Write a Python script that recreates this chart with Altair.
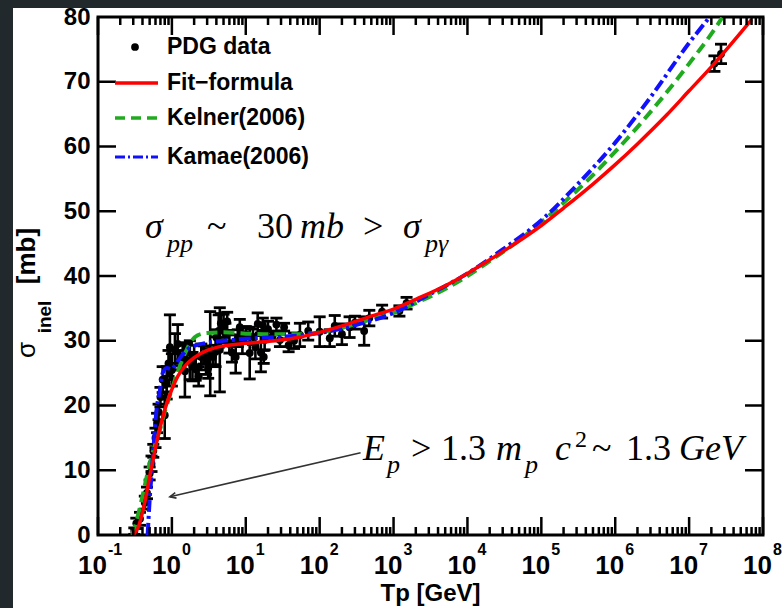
import altair as alt
import pandas as pd

# ---------------- data ----------------
pdg_tp = [0.31, 0.33, 0.37, 0.43, 0.46, 0.50, 0.53, 0.56, 0.60, 0.63, 0.66, 0.70, 0.75, 0.80, 0.85, 0.90, 0.94, 1.00, 1.10,
          1.2, 1.29, 1.4, 1.50, 1.6, 1.75, 1.9, 2.0, 2.1, 2.3, 2.5, 2.7, 2.9, 3.1, 3.3, 3.6, 3.9, 4.0, 4.3, 4.45, 4.6,
          5.0, 5.3, 5.6, 6.0, 6.5, 7.3, 7.8, 8.3, 9.0, 10.0,
          11.3, 12.5, 13.5, 14.5, 16, 17, 17.5, 18, 20, 23, 26, 29, 33, 38, 45, 54, 70, 100, 137, 160, 200, 254, 300,
          400, 470, 700, 1200, 1500, 2.2e7, 2.7e7]
pdg_sig = [0.6, 1.8, 2.5, 5.0, 6.5, 9.5, 11.0, 13.0, 15.0, 17.3, 19.0, 21.3, 24.0, 18.5, 23.5, 26.5, 29.0, 25.5, 28.6,
           29.5, 27.0, 27.5, 25.3, 28.2, 27.0, 26.0, 27.8, 25.6, 24.5, 27.5, 27.8, 26.8, 25.8, 28.0, 27.5, 28.3, 30.5, 31.5, 28.6, 32.7,
           32.3, 31.2, 33.0, 29.5, 28.2, 27.5, 30.4, 32.1, 30.0, 31.0,
           28.1, 30.6, 29.0, 32.6, 28.2, 32.4, 27.5, 30.1, 31.8, 30.7, 32.5, 30.1, 32.1, 29.3, 30.0, 30.9, 31.5, 31.4, 30.4, 32.3, 31.0, 32.1, 32.8,
           31.5, 33.5, 34.5, 34.6, 35.8, 72.8, 74.3]
pdg_err = [0.5, 0.8, 1.0, 1.0, 0.9, 1.0, 1.2, 1.0, 1.5, 1.5, 1.2, 1.5, 2.0, 3.6, 2.5, 2.0, 5.0, 2.5, 2.5,
           3.0, 1.5, 2.0, 4.0, 1.5, 3.0, 2.2, 1.5, 1.7, 1.5, 2.0, 1.4, 2.0, 1.6, 6.5, 1.2, 2.3, 1.2, 2.5, 6.5, 1.5,
           1.8, 1.5, 1.4, 1.4, 1.5, 2.5, 1.3, 1.2, 2.0, 1.2,
           4.0, 1.2, 1.8, 1.7, 3.0, 1.1, 1.0, 1.5, 1.2, 0.7, 1.0, 1.0, 0.6, 1.0, 1.2, 1.8, 1.4, 2.3, 1.3, 1.6, 1.6, 1.6, 1.0,
           2.2, 1.2, 1.0, 0.8, 0.9, 1.2, 1.5]

fit_tp = [0.28, 0.30, 0.35, 0.40, 0.45, 0.50, 0.55, 0.60, 0.70, 0.80, 0.90, 1.0, 1.2, 1.5, 2, 3, 5, 10, 20, 30,
          50, 100, 200, 500, 1e3, 2e3, 5e3, 1e4, 2e4, 5e4, 1e5, 2e5, 5e5, 1e6, 2e6, 5e6, 1e7, 2e7, 5e7, 7e7]
fit_sig = [0, 0.1, 1.2, 3.5, 6.2, 9.0, 11.3, 13.5, 16.8, 19.3, 21.1, 22.5, 24.5, 26.1, 27.4, 28.5, 29.2, 29.6, 29.9, 30.1,
           30.5, 31.3, 32.3, 33.8, 34.9, 36.4, 38.5, 40.4, 42.5, 45.4, 47.8, 50.5, 54.2, 57.2, 60.4, 64.9, 68.6, 72.3, 77.6, 79.6]

kel_tp = [0.29, 0.32, 0.40, 0.50, 0.60, 0.70, 0.80, 1.0, 1.2, 1.5, 1.8, 2.2, 3, 5, 10, 20, 50, 100, 200, 500,
          1e3, 2e3, 5e3, 1e4, 2e4, 5e4, 1e5, 2e5, 5e5, 1e6, 2e6, 5e6, 1e7, 2e7, 2.8e7]
kel_sig = [0, 1.5, 6.0, 11.0, 14.2, 16.5, 19.0, 22.5, 25.2, 28.0, 29.8, 30.8, 31.2, 31.3, 31.1, 31.0, 31.0, 31.3, 32.0, 33.3,
           34.3, 35.8, 38.0, 40.0, 42.3, 45.5, 48.3, 51.3, 55.6, 59.2, 63.0, 68.4, 72.8, 77.4, 79.9]

kam_tp = [0.47, 0.50, 0.54, 0.57, 0.62, 0.69, 0.75, 0.85, 1.0, 1.1, 1.3, 1.6, 2.0, 3.0, 5, 10, 30, 100, 300, 1e3,
          3e3, 1e4, 3e4, 1e5, 3e5, 1e6, 3e6, 1e7, 1.9e7]
kam_sig = [0, 5.4, 10.5, 14.2, 19.3, 22.4, 25.0, 25.8, 25.6, 26.2, 27.4, 28.6, 29.2, 29.7, 30.0, 30.3, 30.6, 31.2, 32.4, 34.3,
           37.1, 40.4, 44.1, 48.6, 54.0, 60.6, 67.6, 76.0, 80.0]

x_exponents = ["-1", "0", "1", "2", "3", "4", "5", "6", "7", "8"]
x_decades = [10.0 ** k for k in range(-1, 9)]
x_minor = [m * 10.0 ** k for k in range(-1, 8) for m in range(2, 10)]
y_ticks = [0, 10, 20, 30, 40, 50, 60, 70, 80]
y_inner = [10, 20, 30, 40, 50, 60, 70]

legend_labels = ["PDG data", "Fit\u2212formula", "Kelner(2006)", "Kamae(2006)"]

# arrow (data coordinates)
arrow_from = (358, 12.7)
arrow_to = (0.94, 5.9)

# ---------------- layout ----------------
W, H = 665, 518
PADL, PADT, PADR, PADB = 98, 17, 19, 73
DARK = "#22292c"
SANS = "Liberation Sans"
SERIF = "Liberation Serif"
XMIN, XMAX, YMIN, YMAX = 0.1, 1e8, 0, 80
DEC_PX = W / 9.0           # pixels per decade
MB_PX = H / 80.0           # pixels per mb
TMAJ, TMIN = 18, 8         # tick lengths in px

xs = alt.Scale(type="log", domain=[XMIN, XMAX], nice=False)
ys = alt.Scale(domain=[YMIN, YMAX], nice=False, zero=False)
xax = alt.Axis(labels=False, ticks=False, domain=False, grid=False, title=None)
yax = alt.Axis(values=y_ticks, ticks=False, domain=False, grid=False, title=None,
               labelFont=SANS, labelFontWeight="bold", labelFontSize=24, labelColor="black",
               labelPadding=8)


def X(f):
    return alt.X(f, type="quantitative", scale=xs, axis=xax)


def Y(f):
    return alt.Y(f, type="quantitative", scale=ys, axis=yax)


one = pd.DataFrame({"a": [0]})

pdg = pd.DataFrame({"tp": pdg_tp, "sig": pdg_sig, "err": pdg_err})
pdg["lo"] = pdg["sig"] - pdg["err"]
pdg["hi"] = pdg["sig"] + pdg["err"]
caps = pd.DataFrame({"tp": pdg_tp * 2, "v": list(pdg["lo"]) + list(pdg["hi"])})

layers = []

# dark frame strips around the white panel
layers.append(alt.Chart(one).mark_rect(color=DARK).encode(
    x=alt.value(-PADL), x2=alt.value(13 - PADL), y=alt.value(-PADT), y2=alt.value(H + PADB)))
layers.append(alt.Chart(one).mark_rect(color=DARK).encode(
    x=alt.value(-PADL), x2=alt.value(W + PADR), y=alt.value(-PADT), y2=alt.value(8 - PADT)))

# error bars and points
layers.append(alt.Chart(pdg).mark_rule(color="black", strokeWidth=2.6, clip=True).encode(
    x=X("tp"), y=Y("lo"), y2="hi"))
layers.append(alt.Chart(caps).mark_tick(color="black", orient="horizontal", size=12, thickness=2.8,
                                        opacity=1, clip=True).encode(
    x=X("tp"), y=Y("v")))
layers.append(alt.Chart(pdg).mark_circle(color="black", size=62, opacity=1, clip=True).encode(
    x=X("tp"), y=Y("sig")))

# curves
kel = pd.DataFrame({"tp": kel_tp, "sig": kel_sig})
kam = pd.DataFrame({"tp": kam_tp, "sig": kam_sig})
fit = pd.DataFrame({"tp": fit_tp, "sig": fit_sig})
layers.append(alt.Chart(kel).mark_line(color="#1faa1f", strokeWidth=4, strokeDash=[11, 6],
                                       interpolate="monotone", clip=True).encode(x=X("tp"), y=Y("sig")))
layers.append(alt.Chart(kam).mark_line(color="#1010ff", strokeWidth=4, strokeDash=[12, 4, 3, 4],
                                       interpolate="monotone", clip=True).encode(x=X("tp"), y=Y("sig")))
layers.append(alt.Chart(fit).mark_line(color="#ff0000", strokeWidth=3.5,
                                       interpolate="monotone", clip=True).encode(x=X("tp"), y=Y("sig")))

# inward ticks, drawn in data units
fmaj = 10 ** (TMAJ / DEC_PX)
tick_rows = []
for t in x_decades:
    tick_rows.append((t, t, YMIN, YMIN + TMAJ / MB_PX))
    tick_rows.append((t, t, YMAX, YMAX - TMAJ / MB_PX))
for t in x_minor:
    tick_rows.append((t, t, YMIN, YMIN + TMIN / MB_PX))
    tick_rows.append((t, t, YMAX, YMAX - TMIN / MB_PX))
for v in y_inner:
    tick_rows.append((XMIN, XMIN * fmaj, v, v))
    tick_rows.append((XMAX, XMAX / fmaj, v, v))
ticks = pd.DataFrame(tick_rows, columns=["x0", "x1", "y0", "y1"])
layers.append(alt.Chart(ticks).mark_rule(color="black", strokeWidth=2.5).encode(
    x=X("x0"), x2="x1", y=Y("y0"), y2="y1"))

# x tick labels 10^k
maj = pd.DataFrame({"t": x_decades, "e": x_exponents})
layers.append(alt.Chart(maj).mark_text(font=SANS, fontWeight="bold", fontSize=26, align="right",
                                       baseline="middle", dx=9, color="black").encode(
    x=X("t"), y=alt.value(549), text=alt.value("10")))
layers.append(alt.Chart(maj).mark_text(font=SANS, fontWeight="bold", fontSize=16, align="left",
                                       baseline="middle", dx=10, color="black").encode(
    x=X("t"), y=alt.value(533), text="e:N"))


def txt(s, x, y, size, font=SANS, weight="normal", style="normal", align="left", baseline="alphabetic",
        angle=0, color="black"):
    kw = dict(font=font, fontSize=size, fontWeight=weight, fontStyle=style, align=align,
              baseline=baseline, color=color)
    if angle:
        kw["angle"] = angle
    return alt.Chart(one).mark_text(**kw).encode(x=alt.value(x), y=alt.value(y), text=alt.value(s))


# axis titles
layers.append(txt("Tp [GeV]", W / 2, 577, 24, weight="bold", align="center", baseline="middle"))
layers.append(txt("\u03c3", -71, 333, 26, align="center", baseline="middle", angle=270))
layers.append(txt("inel", -53, 300, 19, weight="bold", align="center", baseline="middle", angle=270))
layers.append(txt("[mb]", -71, 239, 26, weight="bold", align="center", baseline="middle", angle=270))

# legend
leg_y = [30, 66, 101, 140]
layers.append(alt.Chart(one).mark_circle(color="black", size=60, opacity=1).encode(
    x=alt.value(37), y=alt.value(leg_y[0])))
layers.append(alt.Chart(one).mark_rule(color="#ff0000", strokeWidth=3.5).encode(
    x=alt.value(17), x2=alt.value(60), y=alt.value(leg_y[1])))
layers.append(alt.Chart(one).mark_rule(color="#1faa1f", strokeWidth=3.5, strokeDash=[10, 6]).encode(
    x=alt.value(17), x2=alt.value(60), y=alt.value(leg_y[2])))
layers.append(alt.Chart(one).mark_rule(color="#1010ff", strokeWidth=3, strokeDash=[10, 3, 2, 3]).encode(
    x=alt.value(17), x2=alt.value(60), y=alt.value(leg_y[3])))
for lab, yv in zip(legend_labels, leg_y):
    layers.append(txt(lab, 69, yv, 23, weight="bold", baseline="middle"))

# annotation 1: sigma_pp ~ 30 mb > sigma_p gamma
b1, s1 = 221, 235
layers.append(txt("\u03c3", 47, b1, 36, font=SERIF, style="italic"))
layers.append(txt("pp", 69, s1, 26, font=SERIF, style="italic"))
layers.append(txt("~", 109, b1, 36, font=SERIF))
layers.append(txt("30", 159, b1, 36, font=SERIF))
layers.append(txt("mb", 202, b1, 36, font=SERIF, style="italic"))
layers.append(txt(">", 265, b1, 36, font=SERIF))
layers.append(txt("\u03c3", 305, b1, 36, font=SERIF, style="italic"))
layers.append(txt("p\u03b3", 327, s1, 26, font=SERIF, style="italic"))

# annotation 2: E_p > 1.3 m_p c^2 ~ 1.3 GeV
b2, s2, p2 = 443, 456, 430
layers.append(txt("E", 265, b2, 36, font=SERIF, style="italic"))
layers.append(txt("p", 289, s2, 26, font=SERIF, style="italic"))
layers.append(txt(">", 313, b2, 36, font=SERIF))
layers.append(txt("1.3", 343, b2, 36, font=SERIF))
layers.append(txt("m", 398, b2, 36, font=SERIF, style="italic"))
layers.append(txt("p", 427, s2, 26, font=SERIF, style="italic"))
layers.append(txt("c", 457, b2, 36, font=SERIF, style="italic"))
layers.append(txt("2", 477, p2, 24, font=SERIF))
layers.append(txt("~", 494, b2, 36, font=SERIF))
layers.append(txt("1.3", 528, b2, 36, font=SERIF))
layers.append(txt("GeV", 581, b2, 36, font=SERIF, style="italic"))

# arrow
arr = pd.DataFrame({"x0": [arrow_from[0]], "y0": [arrow_from[1]], "x1": [arrow_to[0]], "y1": [arrow_to[1]]})
layers.append(alt.Chart(arr).mark_rule(color="#333333", strokeWidth=1.6).encode(
    x=X("x0"), y=Y("y0"), x2="x1", y2="y1"))
layers.append(alt.Chart(arr).mark_point(shape="M -0.45 1 L 0 0 L 0.45 1", angle=257, size=150,
                                        filled=False, color="#333333", strokeWidth=1.6, opacity=1).encode(
    x=X("x1"), y=Y("y1")))

chart = alt.layer(*layers).properties(
    width=W, height=H,
    padding={"left": PADL, "top": PADT, "right": PADR, "bottom": PADB},
    autosize=alt.AutoSizeParams(type="none"),
).configure(background="white").configure_view(stroke="black", strokeWidth=3)

chart.save("out.html", embed_options={"renderer": "svg", "actions": False})
